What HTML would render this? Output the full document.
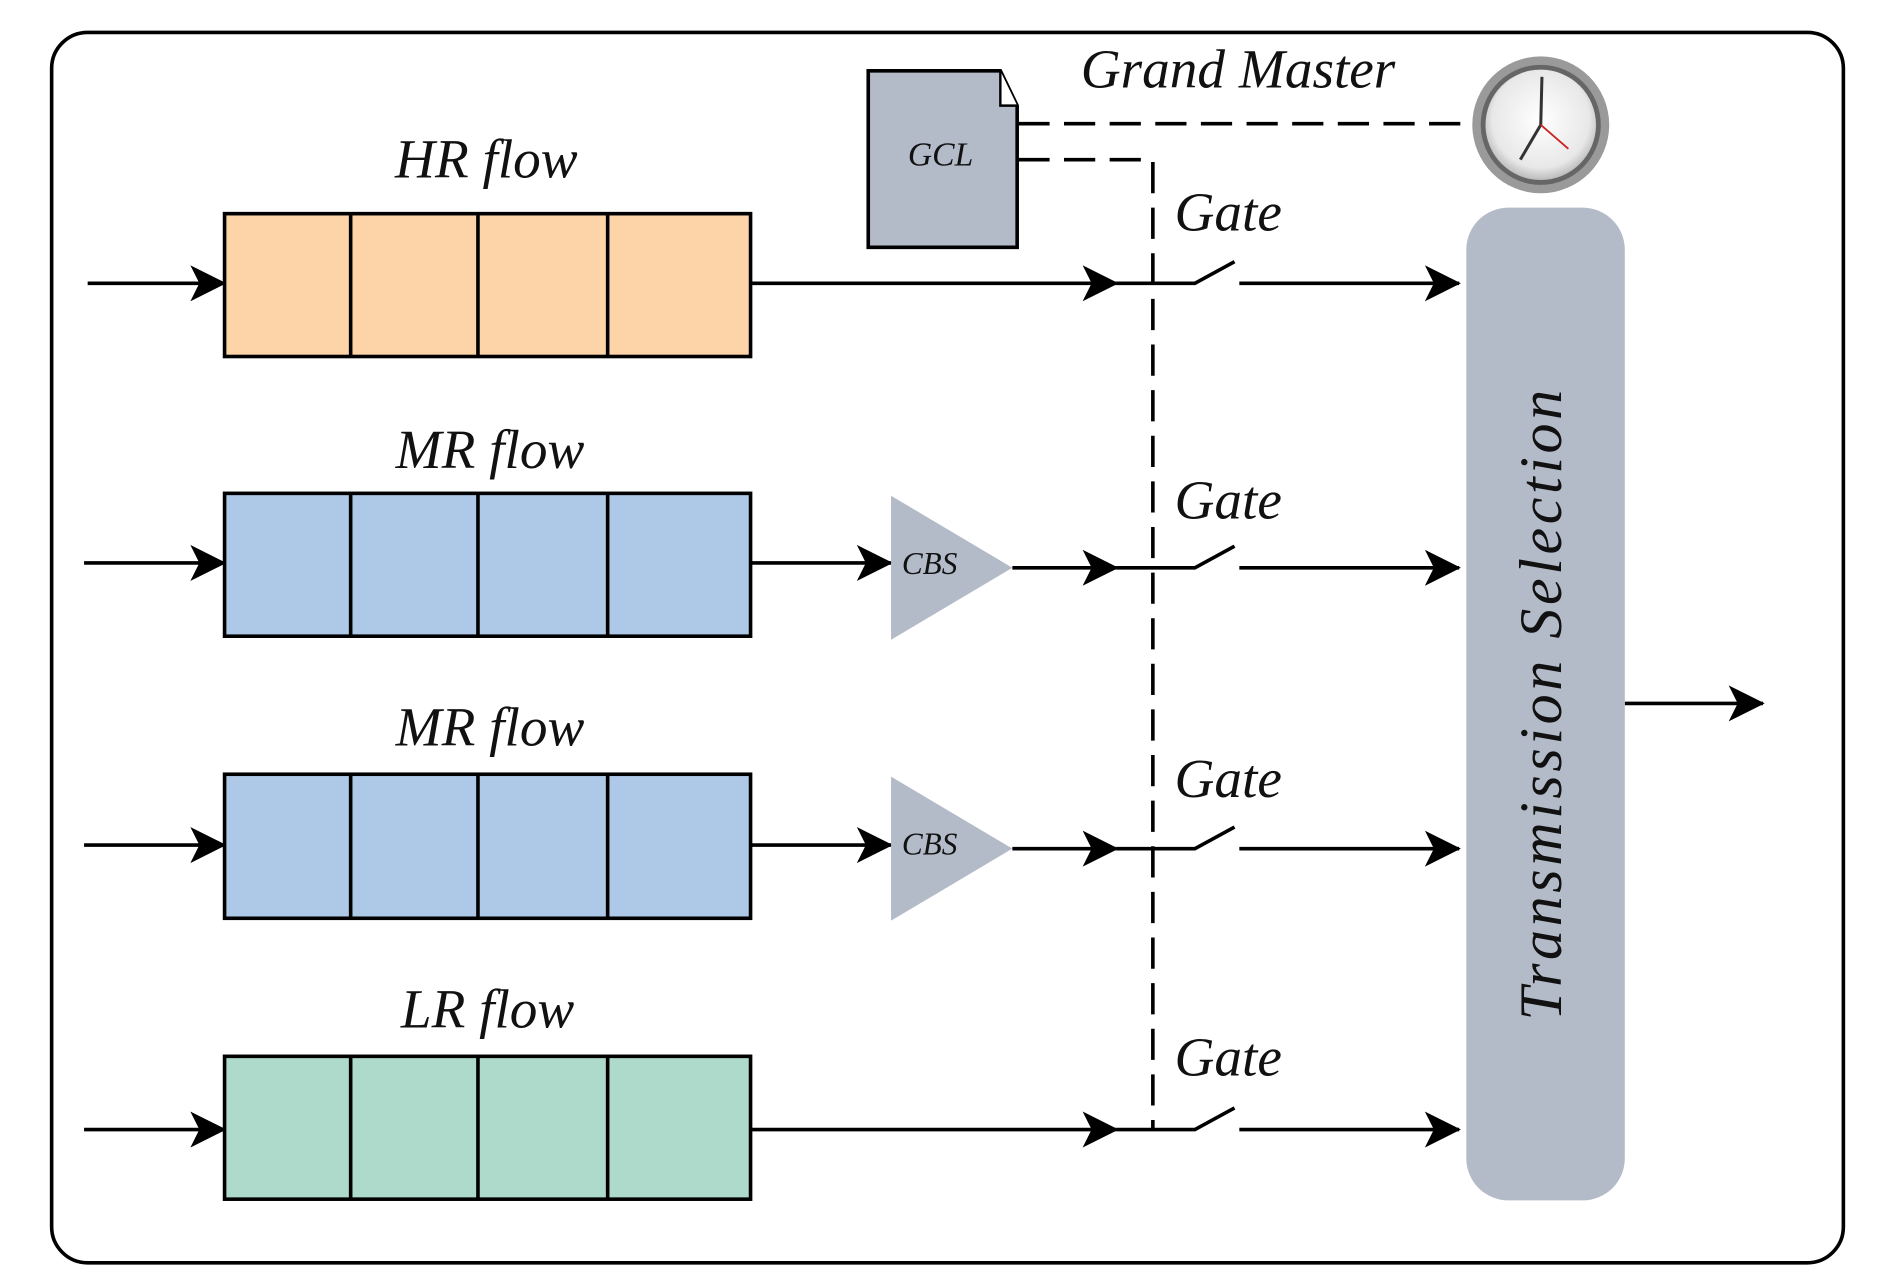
<!DOCTYPE html>
<html><head><meta charset="utf-8"><style>html,body{margin:0;padding:0;background:#fff}svg{display:block}</style></head>
<body>
<svg width="1877" height="1288" viewBox="0 0 1563 1073" preserveAspectRatio="none" xmlns="http://www.w3.org/2000/svg">
<defs>
<marker id="ah" viewBox="0 0 20 20" refX="19" refY="10" markerWidth="30" markerHeight="30" markerUnits="userSpaceOnUse" orient="auto">
<path d="M0,0 L20,10 L0,20 L5,10 Z" fill="#000"/></marker>
<radialGradient id="cg" cx="50%" cy="45%" r="55%"><stop offset="0" stop-color="#fff"/><stop offset="0.8" stop-color="#e8e8e8"/><stop offset="1" stop-color="#bbb"/></radialGradient>
</defs>
<rect x="43" y="27" width="1492" height="1025" rx="30" fill="#fff" stroke="#000" stroke-width="3"/>
<g font-family="Liberation Serif, serif" font-style="italic" fill="#111">
<text x="405" y="148" font-size="46" text-anchor="middle">HR flow</text>
<text x="408" y="390" font-size="46" text-anchor="middle">MR flow</text>
<text x="408" y="621" font-size="46" text-anchor="middle">MR flow</text>
<text x="406" y="856" font-size="46" text-anchor="middle">LR flow</text>
<text x="900" y="73" font-size="46">Grand Master</text>
<text x="978" y="192" font-size="46">Gate</text>
<text x="978" y="432" font-size="46">Gate</text>
<text x="978" y="664" font-size="46">Gate</text>
<text x="978" y="896" font-size="46">Gate</text>
</g>
<g stroke="#000" stroke-width="3">
<rect x="187" y="178" width="438" height="119" fill="#FDD4A8"/>
<rect x="187" y="411" width="438" height="119" fill="#AEC8E8"/>
<rect x="187" y="645" width="438" height="120" fill="#AEC8E8"/>
<rect x="187" y="880" width="438" height="119" fill="#AEDACC"/>
<path d="M292,178V297M398,178V297M506,178V297M292,411V530M398,411V530M506,411V530M292,645V765M398,645V765M506,645V765M292,880V999M398,880V999M506,880V999"/>
</g>
<g stroke="#000" stroke-width="3" fill="none" marker-end="url(#ah)">
<line x1="73" y1="236" x2="187" y2="236"/>
<line x1="70" y1="469" x2="187" y2="469"/>
<line x1="70" y1="704" x2="187" y2="704"/>
<line x1="70" y1="941" x2="187" y2="941"/>
<line x1="625" y1="236" x2="930" y2="236"/>
<line x1="625" y1="469" x2="742" y2="469"/>
<line x1="625" y1="704" x2="742" y2="704"/>
<line x1="625" y1="941" x2="930" y2="941"/>
<line x1="843" y1="473" x2="930" y2="473"/>
<line x1="843" y1="707" x2="930" y2="707"/>
<line x1="1032" y1="236" x2="1215" y2="236"/>
<line x1="1032" y1="473" x2="1215" y2="473"/>
<line x1="1032" y1="707" x2="1215" y2="707"/>
<line x1="1032" y1="941" x2="1215" y2="941"/>
<line x1="1353" y1="586" x2="1468" y2="586"/>
</g>
<g stroke="#000" stroke-width="3" fill="none">
<path d="M930,236H995L1028,218"/>
<path d="M930,473H995L1028,455"/>
<path d="M930,707H995L1028,689"/>
<path d="M930,941H995L1028,923"/>
<path d="M848,133H960V941" stroke-dasharray="26,12"/>
<path d="M848,103H1228" stroke-dasharray="26,12"/>
</g>
<polygon points="742,413 843,473 742,533" fill="#B3BAC8"/>
<polygon points="742,647 843,707 742,767" fill="#B3BAC8"/>
<g font-family="Liberation Serif, serif" font-style="italic" font-size="26" fill="#111">
<text x="751" y="478">CBS</text><text x="751" y="712">CBS</text>
<text x="756" y="138">GCL</text>
</g>
<path d="M723,59H833L847,88V206H723Z" fill="#B3BAC8" stroke="#000" stroke-width="3"/>
<path d="M833,59V88H847" fill="#fff" stroke="#000" stroke-width="2"/>
<text x="756" y="138" font-family="Liberation Serif, serif" font-style="italic" font-size="28" fill="#111">GCL</text>
<circle cx="1283" cy="104" r="57" fill="#9a9a9a"/>
<circle cx="1283" cy="104" r="50" fill="#666"/>
<circle cx="1283" cy="104" r="46" fill="url(#cg)"/>
<path d="M1283,104L1284,64M1283,104L1266,133" stroke="#333" stroke-width="2.5"/>
<path d="M1283,104L1306,124" stroke="#c22" stroke-width="1.5"/>
<rect x="1221" y="173" width="132" height="827" rx="35" fill="#B3BAC8"/>
<text transform="translate(1300,586) rotate(-90)" text-anchor="middle" font-family="Liberation Serif, serif" font-style="italic" font-size="50" letter-spacing="3" fill="#111">Transmission Selection</text>
</svg>
</body></html>
